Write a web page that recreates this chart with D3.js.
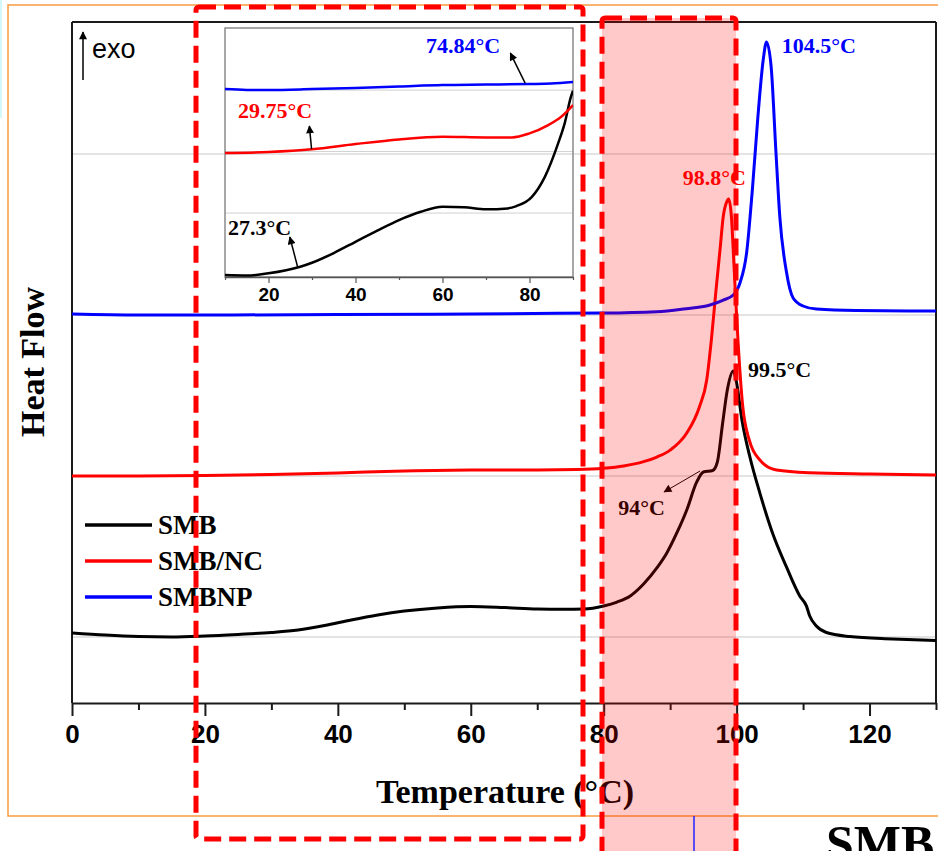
<!DOCTYPE html>
<html>
<head>
<meta charset="utf-8">
<script src="https://cdnjs.cloudflare.com/ajax/libs/d3/7.8.5/d3.min.js"></script>
<style>
	body { margin: 0; background: #fff; }
	svg { display: block; }
	.serif { font-family: "Liberation Serif", "Times New Roman", serif; font-weight: bold; }
	.sans { font-family: "Liberation Sans", Arial, sans-serif; }
</style>
</head>
<body>
<div id="main"></div>
<script>
// DSC heat flow traces (exo up), temperature in degC, heat flow in arbitrary units
let smb_temp = [0, 5, 10, 15, 20, 25, 30, 34, 38, 42, 46, 50, 55, 60, 65, 70, 74, 77, 80, 82, 84, 86, 88, 89.5, 91, 92.5, 94, 95, 96.4, 97.1, 97.9, 98.6, 99.5, 100, 100.8, 102, 103.5, 105.4, 107.5, 109.5, 110.5, 111, 112, 113.5, 117, 123.5, 130];
let smb_flow = [1.025, 1.012, 1.003, 1.000, 1.006, 1.016, 1.028, 1.043, 1.071, 1.106, 1.137, 1.161, 1.180, 1.189, 1.183, 1.174, 1.172, 1.174, 1.193, 1.217, 1.255, 1.329, 1.429, 1.522, 1.646, 1.789, 1.963, 2.025, 2.034, 2.087, 2.329, 2.534, 2.652, 2.578, 2.348, 2.118, 1.894, 1.646, 1.435, 1.255, 1.193, 1.130, 1.068, 1.028, 1.003, 0.988, 0.978];

let smbnc_temp = [0, 10, 20, 30, 40, 50, 60, 70, 76, 80, 83, 86, 88, 90, 92.5, 94.4, 95.5, 96.2, 96.9, 97.5, 98, 98.5, 98.8, 99.2, 99.6, 100.2, 100.9, 101.9, 103.5, 106, 111, 120, 130];
let smbnc_flow = [2.000, 2.000, 2.003, 2.009, 2.019, 2.031, 2.037, 2.037, 2.040, 2.048, 2.062, 2.089, 2.118, 2.161, 2.267, 2.429, 2.596, 2.845, 3.155, 3.404, 3.615, 3.702, 3.720, 3.621, 3.311, 2.845, 2.441, 2.224, 2.099, 2.037, 2.020, 2.012, 2.006];

let smbnp_temp = [0, 10, 20, 40, 60, 73, 80, 88, 92, 96, 98, 99.5, 100.5, 101.5, 102.4, 103.2, 104, 104.5, 105.2, 105.9, 106.5, 107.5, 108.5, 110, 112, 118, 130];
let smbnp_flow = [3.006, 3.000, 3.000, 3.003, 3.006, 3.011, 3.012, 3.020, 3.037, 3.062, 3.093, 3.124, 3.199, 3.385, 3.795, 4.230, 4.584, 4.696, 4.540, 4.025, 3.609, 3.267, 3.106, 3.056, 3.037, 3.028, 3.025];

// zoomed view of the glass transition region (inset)
let inset_smb_temp = [10, 15, 20, 27.3, 30, 35, 40, 45, 50, 55, 60, 65, 70, 75, 77, 80.5, 83.5, 86.6, 88.1, 89.5, 90];
let inset_smb_flow = [-0.008, -0.016, 0.020, 0.127, 0.192, 0.350, 0.533, 0.715, 0.886, 1.021, 1.102, 1.093, 1.060, 1.076, 1.114, 1.260, 1.585, 2.138, 2.463, 2.886, 2.990];
let inset_smbnc_temp = [10, 20, 30, 40, 50, 60, 70, 76, 80, 84.3, 87.3, 90];
let inset_smbnc_flow = [1.976, 1.992, 2.036, 2.122, 2.198, 2.241, 2.231, 2.231, 2.296, 2.431, 2.566, 2.756];
let inset_smbnp_temp = [10, 15, 20, 30, 40, 50, 60, 70, 80, 85, 90];
let inset_smbnp_flow = [3.016, 3.003, 3.003, 3.016, 3.033, 3.057, 3.081, 3.089, 3.098, 3.106, 3.130];

let series_names = ['SMB', 'SMB/NC', 'SMBNP'];
let series_colors = ['#000000', '#ff0000', '#0000ff'];

let x_ticks = [0, 20, 40, 60, 80, 100, 120];
let x_minor = [10, 30, 50, 70, 90, 110, 130];
let grid_levels = [1, 2, 3, 4];
let inset_ticks = [20, 40, 60, 80];
let inset_minor = [10, 30, 50, 70, 90];
let inset_grid = [1, 2, 3];

let svg = d3.select('#main').append('svg').attr('width', 938).attr('height', 851);
let defs = svg.append('defs');

defs.append('marker').attr('id', 'arrow')
	.attr('viewBox', '0 0 10 10').attr('refX', 9).attr('refY', 5)
	.attr('markerUnits', 'userSpaceOnUse')
	.attr('markerWidth', 11).attr('markerHeight', 8)
	.attr('orient', 'auto')
	.append('path').attr('d', 'M0,0L10,5L0,10z').attr('fill', '#000');

// background decorations of the slide
svg.append('rect').attr('x', 0).attr('y', 0).attr('width', 2).attr('height', 118).attr('fill', '#d4f8fa');
svg.append('rect').attr('x', 8).attr('y', 5).attr('width', 945).attr('height', 811)
	.attr('fill', 'none').attr('stroke', '#f9a24c').attr('stroke-width', 1.6);

let x = d3.scaleLinear().domain([0, 130]).range([72, 936]);
let y = d3.scaleLinear().domain([0.59, 4.82]).range([703, 22]);

let xi = d3.scaleLinear().domain([10, 90]).range([225, 573]);
let yi = d3.scaleLinear().domain([-0.04, 4.01]).range([277, 28]);

// grid
svg.append('g').selectAll('line').data(grid_levels).enter().append('line')
	.attr('x1', x(0)).attr('x2', x(130))
	.attr('y1', d => y(d)).attr('y2', d => y(d))
	.attr('stroke', '#c8c8c8').attr('stroke-width', 1);

// frame
let frame = svg.append('g').attr('stroke', '#1a1a1a').attr('stroke-width', 2);
frame.append('line').attr('x1', x(0)).attr('x2', x(130)).attr('y1', y(4.82)).attr('y2', y(4.82));
frame.append('line').attr('x1', x(130)).attr('x2', x(130)).attr('y1', y(4.82)).attr('y2', y(0.59));
frame.append('line').attr('x1', x(0)).attr('x2', x(0)).attr('y1', y(4.82)).attr('y2', y(0.59));

// x axis
let x_axis = svg.append('g').attr('transform', 'translate(0,' + y(0.59) + ')')
	.call(d3.axisBottom(x).tickValues(x_ticks).tickSize(13).tickSizeOuter(0).tickPadding(9).tickFormat(d3.format('d')));
x_axis.select('.domain').attr('stroke', '#1a1a1a').attr('stroke-width', 2.2);
x_axis.selectAll('.tick line').attr('stroke', '#1a1a1a').attr('stroke-width', 2);
x_axis.selectAll('.tick text').attr('class', 'sans').style('font-size', '26px').style('font-weight', 'bold').attr('fill', '#000');

let x_axis_minor = svg.append('g').attr('transform', 'translate(0,' + y(0.59) + ')')
	.call(d3.axisBottom(x).tickValues(x_minor).tickSize(7).tickFormat(''));
x_axis_minor.select('.domain').remove();
x_axis_minor.selectAll('.tick line').attr('stroke', '#1a1a1a').attr('stroke-width', 2);

svg.append('text').attr('class', 'serif')
	.attr('x', 505).attr('y', 803).attr('text-anchor', 'middle')
	.style('font-size', '34px').text('Temperature (°C)');

svg.append('text').attr('class', 'serif')
	.attr('transform', 'translate(44,362) rotate(-90)').attr('text-anchor', 'middle')
	.style('font-size', '34px').text('Heat Flow');

// exo arrow
svg.append('line').attr('x1', 83).attr('x2', 83).attr('y1', 80).attr('y2', 32)
	.attr('stroke', '#000').attr('stroke-width', 1.5).attr('marker-end', 'url(#arrow)');
svg.append('text').attr('class', 'sans').attr('x', 92).attr('y', 58)
	.style('font-size', '27px').text('exo');

// curves
let line = d3.line().x(d => x(d[0])).y(d => y(d[1])).curve(d3.curveMonotoneX);
let main_series = [d3.zip(smb_temp, smb_flow), d3.zip(smbnc_temp, smbnc_flow), d3.zip(smbnp_temp, smbnp_flow)];

svg.append('g').selectAll('path').data(main_series).enter().append('path')
	.attr('d', line)
	.attr('fill', 'none')
	.attr('stroke', (d, i) => series_colors[i])
	.attr('stroke-width', 3);

// peak labels
svg.append('text').attr('class', 'serif').attr('x', x(106.8)).attr('y', y(4.627))
	.attr('fill', '#0000ff').style('font-size', '22px').text('104.5°C');
svg.append('text').attr('class', 'serif').attr('x', x(91.9)).attr('y', y(3.807))
	.attr('fill', '#ff0000').style('font-size', '22px').text('98.8°C');
svg.append('text').attr('class', 'serif').attr('x', x(101.7)).attr('y', y(2.615))
	.attr('fill', '#000').style('font-size', '22px').text('99.5°C');
svg.append('text').attr('class', 'serif').attr('x', x(82.2)).attr('y', y(1.758))
	.attr('fill', '#000').style('font-size', '22px').text('94°C');
svg.append('line')
	.attr('x1', x(94.5)).attr('y1', y(2.031)).attr('x2', x(89.1)).attr('y2', y(1.901))
	.attr('stroke', '#000').attr('stroke-width', 1).attr('marker-end', 'url(#arrow)');

// legend
let legend = svg.append('g').selectAll('g').data(series_names).enter().append('g')
	.attr('transform', (d, i) => 'translate(85,' + (525 + i * 36) + ')');
legend.append('line').attr('x1', 0).attr('x2', 67)
	.attr('stroke', (d, i) => series_colors[i]).attr('stroke-width', 3.5);
legend.append('text').attr('class', 'serif').attr('x', 73).attr('y', 9)
	.style('font-size', '27px').text(d => d);

// inset
let inset = svg.append('g');
defs.append('clipPath').attr('id', 'inset_clip')
	.append('rect').attr('x', xi(10)).attr('y', yi(4.01)).attr('width', xi(90) - xi(10)).attr('height', yi(-0.04) - yi(4.01));

inset.append('g').selectAll('line').data(inset_grid).enter().append('line')
	.attr('x1', xi(10)).attr('x2', xi(90))
	.attr('y1', d => yi(d)).attr('y2', d => yi(d))
	.attr('stroke', '#d0d0d0').attr('stroke-width', 1);

inset.append('rect').attr('x', xi(10)).attr('y', yi(4.01))
	.attr('width', xi(90) - xi(10)).attr('height', yi(-0.04) - yi(4.01))
	.attr('fill', 'none').attr('stroke', '#8a8a8a').attr('stroke-width', 1.5);

let inset_axis = inset.append('g').attr('transform', 'translate(0,' + yi(-0.04) + ')')
	.call(d3.axisBottom(xi).tickValues(inset_ticks).tickSize(6).tickSizeOuter(0).tickPadding(5).tickFormat(d3.format('d')));
inset_axis.select('.domain').attr('stroke', '#555').attr('stroke-width', 1.5);
inset_axis.selectAll('.tick line').attr('stroke', '#555').attr('stroke-width', 1.2);
inset_axis.selectAll('.tick text').attr('class', 'sans').style('font-size', '19px').style('font-weight', 'bold').attr('fill', '#000');

let inset_axis_minor = inset.append('g').attr('transform', 'translate(0,' + yi(-0.04) + ')')
	.call(d3.axisBottom(xi).tickValues(inset_minor).tickSize(3).tickFormat(''));
inset_axis_minor.select('.domain').remove();
inset_axis_minor.selectAll('.tick line').attr('stroke', '#555').attr('stroke-width', 1.2);

let inset_line = d3.line().x(d => xi(d[0])).y(d => yi(d[1])).curve(d3.curveMonotoneX);
let inset_series = [d3.zip(inset_smb_temp, inset_smb_flow), d3.zip(inset_smbnc_temp, inset_smbnc_flow), d3.zip(inset_smbnp_temp, inset_smbnp_flow)];

inset.append('g').attr('clip-path', 'url(#inset_clip)')
	.selectAll('path').data(inset_series).enter().append('path')
	.attr('d', inset_line)
	.attr('fill', 'none')
	.attr('stroke', (d, i) => series_colors[i])
	.attr('stroke-width', 2.5);

// onset labels in the inset
inset.append('text').attr('class', 'serif').attr('x', xi(56.2)).attr('y', yi(3.602))
	.attr('fill', '#0000ff').style('font-size', '22px').text('74.84°C');
inset.append('text').attr('class', 'serif').attr('x', xi(13.0)).attr('y', yi(2.545))
	.attr('fill', '#ff0000').style('font-size', '22px').text('29.75°C');
inset.append('text').attr('class', 'serif').attr('x', xi(10.7)).attr('y', yi(0.642))
	.attr('fill', '#000').style('font-size', '22px').text('27.3°C');

let inset_arrows = inset.append('g').attr('stroke', '#000').attr('stroke-width', 1.5);
inset_arrows.append('line').attr('x1', xi(79.0)).attr('y1', yi(3.114)).attr('x2', xi(75.6)).attr('y2', yi(3.602)).attr('marker-end', 'url(#arrow)');
inset_arrows.append('line').attr('x1', xi(29.9)).attr('y1', yi(2.041)).attr('x2', xi(29.4)).attr('y2', yi(2.415)).attr('marker-end', 'url(#arrow)');
inset_arrows.append('line').attr('x1', xi(26.7)).attr('y1', yi(0.122)).attr('x2', xi(24.9)).attr('y2', yi(0.610)).attr('marker-end', 'url(#arrow)');

// highlight boxes drawn on top of the chart
svg.append('rect').attr('x', 602).attr('y', 18).attr('width', 134).attr('height', 850)
	.attr('fill', 'rgba(255,0,0,0.21)').attr('stroke', 'none');
let dashed = svg.append('g').attr('fill', 'none').attr('stroke', '#ff0000')
	.attr('stroke-width', 5).attr('stroke-dasharray', '17,8');
dashed.append('rect').attr('x', 196).attr('y', 7).attr('width', 387).attr('height', 832).attr('rx', 3);
dashed.append('rect').attr('x', 602).attr('y', 18).attr('width', 134).attr('height', 850).attr('rx', 3);

// slide remnants below the chart (title cut by the page edge, as in the source)
svg.append('line').attr('x1', 694).attr('x2', 694).attr('y1', 816).attr('y2', 851)
	.attr('stroke', '#2020ff').attr('stroke-width', 1.5);
svg.append('text').attr('class', 'serif').attr('x', 826).attr('y', 860)
	.style('font-size', '50px').text('SMB');
</script>
</body>
</html>
